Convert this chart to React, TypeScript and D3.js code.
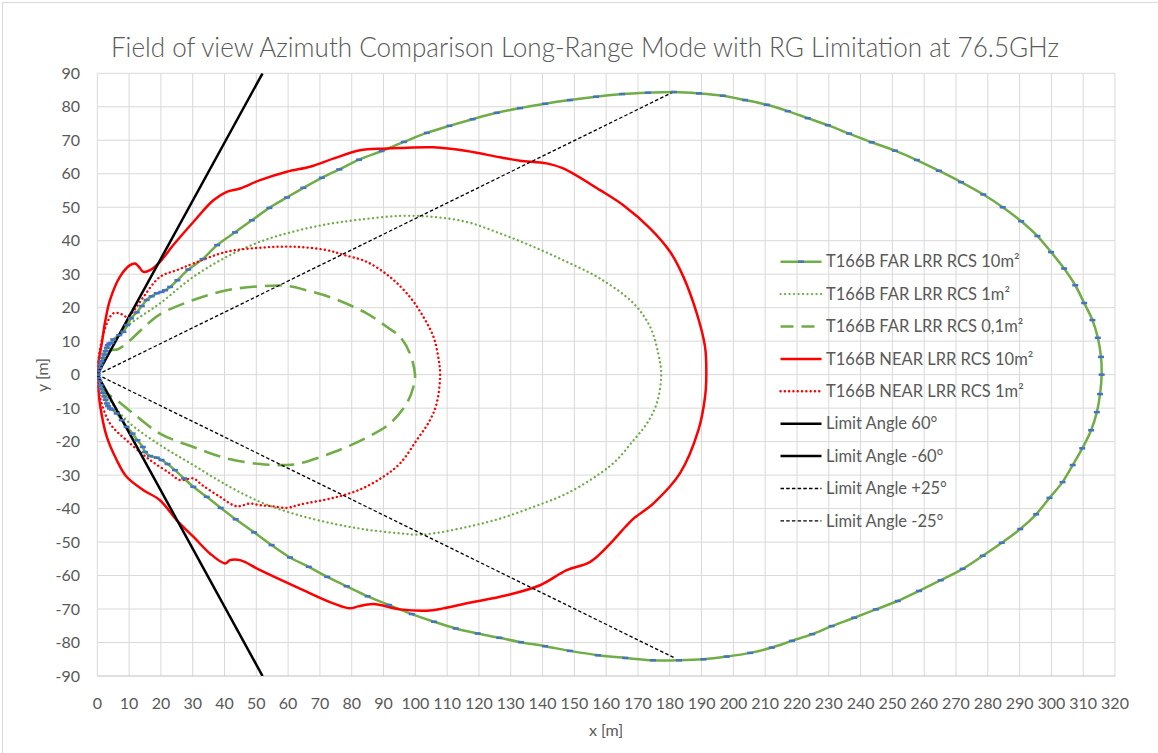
import React from 'react';
import * as d3 from 'd3';

type P = [number, number];

const title = 'Field of view Azimuth Comparison Long-Range Mode with RG Limitation at 76.5GHz';
const xTickValues = [0, 10, 20, 30, 40, 50, 60, 70, 80, 90, 100, 110, 120, 130, 140, 150, 160, 170, 180, 190, 200, 210, 220, 230, 240, 250, 260, 270, 280, 290, 300, 310, 320];
const yTickValues = [-90, -80, -70, -60, -50, -40, -30, -20, -10, 0, 10, 20, 30, 40, 50, 60, 70, 80, 90];
const xAxisTitle = 'x [m]';
const yAxisTitle = 'y [m]';

const far10: P[] = [
  [0, 0], [0.3, 1], [0.7, 2], [1, 3], [1.3, 4], [1.7, 5], [2.2, 6], [2.6, 7], [3, 8], [3.3, 8.8], [3.8, 9.3], [4.4, 9.5],
  [5, 10.5], [6.9, 11.8], [8.2, 12.8], [9.4, 14.8], [10.6, 16.8], [12.4, 18.6], [14, 20.5], [15.5, 22.3], [17.1, 23.4],
  [18.7, 24.3], [20.2, 24.7], [21.3, 25.2], [22.9, 26.2], [25.2, 28.2], [28.6, 31.4], [33.1, 34.5], [37.7, 38.7],
  [43.3, 42.5], [48.6, 46.1], [54.1, 49.8], [59.6, 52.9], [64.8, 55.8], [70.6, 58.8], [76.1, 61.3], [82.3, 64.2],
  [89.4, 66.8], [96.4, 69.5], [103.6, 72.2], [110.7, 74.3], [118, 76.3], [125.6, 78.2], [132.9, 79.6], [140.8, 80.9],
  [148.6, 82], [156.8, 83], [165, 83.8], [173.1, 84.2], [181.3, 84.4], [189.2, 84], [196.7, 83.3], [203.7, 82],
  [210.5, 80.6], [217.1, 78.7], [223.4, 76.6], [229.7, 74.5], [236.4, 72], [243.5, 69.4], [250.8, 66.9], [257.7, 64.1],
  [264.6, 60.9], [271.6, 57.5], [278.6, 53.8], [284.7, 50], [290.5, 45.8], [295.6, 41.4], [299.9, 36.6], [304, 31.7],
  [307.5, 26.7], [310.3, 21.4], [312.9, 16.3], [314.6, 11], [315.6, 5.3], [315.8, 0], [315.3, -5.8], [314.3, -11.2],
  [312.5, -16.6], [309.7, -22], [306.7, -27], [303.5, -32.1], [299.4, -36.8], [295.2, -41.7], [290.2, -46.1],
  [284.4, -50.2], [278.4, -54.1], [272.1, -58], [265.2, -61.4], [258.4, -64.6], [251.7, -67.6], [244.8, -70.1],
  [238, -72.6], [230.9, -75.1], [224.8, -77.5], [218.4, -79.5], [212.1, -81.5], [205.3, -83.1], [197.9, -84.2],
  [190.6, -85], [182.9, -85.3], [174.7, -85.3], [166, -84.6], [157.4, -83.8], [148.6, -82.5], [140.8, -81.1],
  [133.2, -79.9], [126.4, -78.6], [119.6, -77.3], [112.7, -75.8], [105.9, -73.8], [98.9, -71.5], [91.7, -68.8],
  [85, -66.2], [78.4, -63.2], [72.3, -60.4], [66.5, -57.4], [60.6, -54.6], [54.8, -50.9], [49.3, -47.1], [43.5, -43.2],
  [38.8, -39.8], [34.4, -36.5], [30.2, -33.5], [27.3, -31], [24.4, -28.5], [22.1, -26.7], [20.2, -25.5], [18.7, -24.8],
  [16.6, -24.3], [15, -23.1], [14.3, -21.6], [12.6, -19.6], [11.1, -17.6], [9.2, -15.6], [7.7, -13.6], [6.1, -11.6],
  [4.6, -10.4], [4, -10.1], [3.4, -9.4], [3, -8.6], [2.6, -7.5], [2.2, -6.5], [1.7, -5.4], [1.3, -4.3], [1, -3.2],
  [0.6, -2], [0.3, -1], [0, 0],
];

const far1: P[] = [
  [0, 0], [0.3, 3.8], [3, 8], [9.2, 14.3], [19.7, 21.3], [30.2, 29.2], [40.7, 35.2], [51.2, 39.7], [61.6, 42.7],
  [72.1, 44.9], [82.6, 46.3], [95.2, 47.4], [105.7, 47.1], [116.2, 45.6], [126.6, 42.2], [137.1, 38.2], [147.6, 33.7],
  [158.1, 28.7], [168.6, 21.3], [173.8, 14.3], [176.4, 6.3], [177.3, 0], [175.9, -8.6], [172.8, -14.6], [168.6, -19.6],
  [163.3, -25.5], [158.1, -29.5], [147.6, -35.5], [137.1, -39.5], [126.6, -43], [116.2, -45.5], [105.7, -47.4],
  [100.4, -47.8], [95.2, -47.4], [84.7, -46.3], [74.2, -44.5], [61.6, -41.5], [51.2, -38], [40.7, -33], [30.2, -27],
  [19.7, -21], [9.2, -13.6], [1.9, -4.6], [0, 0],
];

const far01: P[] = [
  [0, 0], [2, 5], [4, 7.2], [6.5, 7.6], [10, 10], [14.5, 14], [19.7, 18], [30.2, 22.3], [40.7, 25.2], [51.2, 26.4],
  [59.6, 26.5], [66.9, 24.9], [74.2, 22.8], [84.7, 18.3], [91, 14.3], [95.2, 11.3], [98.3, 6.3], [99.9, 0],
  [99.4, -3.6], [97.3, -8.6], [92, -14.6], [84.7, -18.8], [74.2, -23.2], [63.7, -26.5], [59.6, -27], [51.2, -26.7],
  [40.7, -25], [30.2, -21.6], [19.7, -17.6], [11.3, -11.6], [6.1, -7.6], [1.9, -4.6], [0, 0],
];

const near10: P[] = [
  [0, 0], [0.3, 3.5], [1.4, 9.3], [2.5, 16], [4, 22.3], [7.1, 29.2], [10.3, 32.7], [11.9, 33.2], [13, 32.3],
  [14.5, 30.7], [16.6, 31.2], [19.7, 33.7], [23.9, 38.7], [30.2, 45.6], [36.5, 52.1], [40.7, 54.6], [44.9, 55.6],
  [51.2, 58.1], [59.6, 60.6], [66.9, 62.1], [74.2, 64.5], [82.6, 67], [90, 67.5], [95.2, 67.7], [105.7, 67.9],
  [116.2, 66.8], [126.6, 64.9], [132.9, 63.9], [141.3, 63.1], [146.5, 61.6], [158.1, 55.1], [165.4, 50.6],
  [173.8, 43.7], [180.1, 36.7], [184.3, 29.2], [188.5, 18.3], [191.1, 8.3], [191.5, 0], [191.1, -6.6], [189, -16.6],
  [183.2, -29.5], [174.8, -38.5], [168.6, -43], [166, -45.5], [162.3, -49.4], [155, -55.9], [147.6, -58.4],
  [139.2, -62.9], [128.7, -65.9], [116.2, -68.3], [108.8, -69.8], [103.6, -70.5], [95.2, -70.1], [86.8, -68.5],
  [82, -69.2], [79.5, -69.8], [74.2, -68.3], [63.7, -63.9], [51.2, -58.4], [44.9, -55.4], [41.7, -55.4],
  [40.2, -56.4], [35.4, -53.4], [30.2, -48.4], [25, -43.5], [19.7, -37.5], [14.5, -34.5], [9.2, -30.5],
  [6.1, -25.5], [3, -18.6], [0.8, -8.6], [0, 0],
];

const near1: P[] = [
  [0, 0], [0.8, 7.3], [3, 15.3], [5, 18.3], [7.1, 18.3], [9.2, 17.3], [10.8, 18.3], [14.5, 23.2], [19.7, 29.2],
  [25, 31.2], [30.2, 33.2], [40.7, 36.7], [51.2, 37.9], [61.6, 38.2], [72.1, 37.2], [77.4, 35.8], [84.7, 33.7],
  [92, 29.2], [98.3, 23.2], [102.5, 17.3], [105.7, 11.3], [107.2, 5.3], [107.8, 0], [106.7, -8.6], [104.6, -13.6],
  [100.4, -19.6], [95.2, -26.5], [89.9, -30.5], [82.6, -34.3], [74.2, -36.8], [63.7, -38.8], [59.6, -39.8],
  [55, -39.3], [51.2, -39], [48, -38.5], [43.8, -39.3], [38.6, -36.5], [33, -33], [30.2, -31], [26, -31.5],
  [22.9, -29.5], [16.6, -25.5], [9.2, -19.6], [4, -14.6], [0.8, -6.6], [0, 0],
];

const limit60: P[] = [[0, 0], [51.96, 90]];
const limitM60: P[] = [[0, 0], [51.96, -90]];
const limit25: P[] = [[0, 0], [181.3, 84.5]];
const limitM25: P[] = [[0, 0], [181.3, -84.5]];

const legendLabels = [
  'T166B FAR LRR RCS 10m²',
  'T166B FAR LRR RCS 1m²',
  'T166B FAR LRR RCS 0,1m²',
  'T166B NEAR LRR RCS 10m²',
  'T166B NEAR LRR RCS 1m²',
  'Limit Angle 60°',
  'Limit Angle -60°',
  'Limit Angle +25°',
  'Limit Angle -25°',
];

const GREEN = '#70AD47';
const RED = '#FF0000';
const BLUE = '#4472C4';
const TEXT = '#595959';
const GRID = '#d9d9d9';
const FONT = 'Lato, "Open Sans", sans-serif';

type Style = { stroke: string; width: number; dash?: string; cap?: 'round' | 'butt'; marker?: boolean };

const styles: Style[] = [
  { stroke: GREEN, width: 2.5, marker: true },
  { stroke: GREEN, width: 2.3, dash: '0.1 4.4', cap: 'round' },
  { stroke: GREEN, width: 2.6, dash: '17 8' },
  { stroke: RED, width: 2.5 },
  { stroke: RED, width: 2.4, dash: '0.1 4.2', cap: 'round' },
  { stroke: '#000', width: 2.5 },
  { stroke: '#000', width: 2.5 },
  { stroke: '#000', width: 1.3, dash: '3.5 2.2' },
  { stroke: '#000', width: 1.3, dash: '3.5 2.2' },
];

const seriesData: P[][] = [far10, far1, far01, near10, near1, limit60, limitM60, limit25, limitM25];

const W = 1158;
const H = 753;
const PL = 97.3, PR = 1115, PT = 73.3, PB = 676;

export default function App() {
  const x = d3.scaleLinear().domain([0, 320]).range([PL, PR]);
  const y = d3.scaleLinear().domain([-90, 90]).range([PB, PT]);
  const smooth = d3.line<P>().x(d => x(d[0])).y(d => y(d[1])).curve(d3.curveCatmullRom.alpha(0.5));
  const straight = d3.line<P>().x(d => x(d[0])).y(d => y(d[1]));

  const legendX0 = 780.5, legendX1 = 821.5, legendTextX = 826;
  const legendY0 = 261.7, legendStep = 32.4;

  return (
    <svg width={W} height={H} style={{ position: 'absolute', left: 0, top: 0, background: '#fff' }} fontFamily={FONT}>
      <rect x={2.5} y={2.5} width={W + 20} height={H + 20} fill="#fff" stroke={GRID} strokeWidth={1} />
      <defs>
        <clipPath id="plotClip">
          <rect x={PL} y={PT} width={PR - PL} height={PB - PT} />
        </clipPath>
      </defs>
      <text x={585} y={57} textAnchor="middle" fontSize={27} fill={TEXT} fontWeight={300}
        textLength={948} lengthAdjust="spacingAndGlyphs">{title}</text>

      <g>
        {xTickValues.map(v => (
          <line key={'gx' + v} x1={x(v)} x2={x(v)} y1={PT} y2={PB} stroke={GRID} strokeWidth={1} />
        ))}
        {yTickValues.map(v => (
          <line key={'gy' + v} x1={PL} x2={PR} y1={y(v)} y2={y(v)} stroke={v === -90 ? '#bfbfbf' : GRID} strokeWidth={1} />
        ))}
      </g>

      <g fontSize={16} fill={TEXT}>
        {yTickValues.map(v => (
          <text key={'ty' + v} x={80} y={y(v)} dy="0.35em" textAnchor="end">{v}</text>
        ))}
        {xTickValues.map(v => (
          <text key={'tx' + v} x={x(v)} y={703} dy="0.35em" textAnchor="middle">{v}</text>
        ))}
      </g>
      <text x={606} y={730} dy="0.35em" textAnchor="middle" fontSize={16} fill={TEXT}>{xAxisTitle}</text>
      <text transform={`translate(42,375) rotate(-90)`} dy="0.35em" textAnchor="middle" fontSize={16} fill={TEXT}>{yAxisTitle}</text>

      <g clipPath="url(#plotClip)" fill="none">
        {seriesData.map((d, i) => {
          const s = styles[i];
          const gen = d.length > 2 ? smooth : straight;
          return (
            <path key={'s' + i} d={gen(d) || ''} stroke={s.stroke} strokeWidth={s.width}
              strokeDasharray={s.dash} strokeLinecap={s.cap || 'butt'} strokeLinejoin="round" />
          );
        })}
        {far10.map((p, i) => (
          <rect key={'m' + i} x={x(p[0]) - 3} y={y(p[1]) - 1.25} width={6} height={2.5} fill={BLUE} />
        ))}
      </g>

      <g>
        {legendLabels.map((lab, i) => {
          const s = styles[i];
          const yy = legendY0 + i * legendStep;
          return (
            <g key={'l' + i}>
              <line x1={legendX0} x2={legendX1} y1={yy} y2={yy} stroke={s.stroke} strokeWidth={s.width}
                strokeDasharray={s.dash ? (s.cap === 'round' ? s.dash : (i === 2 ? '13 8' : '3.5 2.2')) : undefined}
                strokeLinecap={s.cap || 'butt'} />
              {s.marker && <rect x={(legendX0 + legendX1) / 2 - 3} y={yy - 1.25} width={6} height={2.5} fill={BLUE} />}
              <text x={legendTextX} y={yy} dy="0.35em" fontSize={16.5} fill={TEXT}>{lab}</text>
            </g>
          );
        })}
      </g>
    </svg>
  );
}
